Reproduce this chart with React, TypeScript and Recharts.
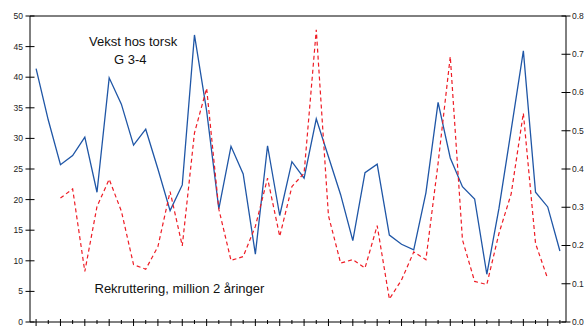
import { ComposedChart, Line, XAxis, YAxis, ReferenceLine } from "recharts";

// år (ingen etiketter vises på x-aksen)
const years = [
  "1961", "1962", "1963", "1964", "1965", "1966", "1967", "1968", "1969", "1970",
  "1971", "1972", "1973", "1974", "1975", "1976", "1977", "1978", "1979", "1980",
  "1981", "1982", "1983", "1984", "1985", "1986", "1987", "1988", "1989", "1990",
  "1991", "1992", "1993", "1994", "1995", "1996", "1997", "1998", "1999", "2000",
  "2001", "2002", "2003", "2004",
];

// Vekst hos torsk G 3-4 (venstre akse)
const vekst = [
  41.4, 33.0, 25.7, 27.2, 30.2, 21.2, 39.9, 35.6, 28.9, 31.5,
  25.0, 18.2, 22.4, 46.9, 34.5, 18.5, 28.7, 24.2, 11.1, 28.8,
  17.4, 26.2, 23.5, 33.2, 27.0, 20.8, 13.3, 24.4, 25.8, 14.2,
  12.7, 11.8, 21.1, 35.9, 26.8, 22.1, 20.1, 7.8, 18.6, 31.4,
  44.3, 21.2, 18.8, 11.6,
];

// Rekruttering, million 2 åringer (høyre akse)
const rekruttering = [
  null, null, 0.324, 0.348, 0.132, 0.302, 0.373, 0.29, 0.15, 0.138,
  0.197, 0.341, 0.199, 0.494, 0.611, 0.295, 0.161, 0.171, 0.25, 0.376,
  0.224, 0.354, 0.389, 0.764, 0.278, 0.154, 0.163, 0.141, 0.252, 0.06,
  0.11, 0.183, 0.163, 0.415, 0.694, 0.215, 0.106, 0.098, 0.232, 0.335,
  0.546, 0.205, 0.113, null,
];

const leftTicks = [0, 5, 10, 15, 20, 25, 30, 35, 40, 45, 50];
const rightTicks = [0, 0.1, 0.2, 0.3, 0.4, 0.5, 0.6, 0.7, 0.8];

const data = years.map((year, i) => ({
  year,
  vekst: vekst[i],
  rekruttering: rekruttering[i],
}));

const font = "'Liberation Sans', Arial, sans-serif";

const XTick = (props: any) => {
  const { x, y } = props;
  const idx = props.index ?? props.payload?.index ?? 0;
  const major = idx % 2 === 0;
  return (
    <line
      x1={x}
      x2={x}
      y1={y - (major ? 3 : 2)}
      y2={y + (major ? 4 : 2)}
      stroke="#000"
      strokeWidth={1}
    />
  );
};

const LeftTick = (props: any) => {
  const { x, y, payload } = props;
  return (
    <g>
      <line x1={x - 4.5} x2={x + 4.5} y1={y} y2={y} stroke="#000" />
      <text
        x={x - 7}
        y={y}
        dy="0.35em"
        textAnchor="end"
        fontSize={8.5}
        fontFamily={font}
        fill="#222"
      >
        {payload.value}
      </text>
    </g>
  );
};

const RightTick = (props: any) => {
  const { x, y, payload } = props;
  return (
    <g>
      <line x1={x - 4.5} x2={x + 4.5} y1={y} y2={y} stroke="#000" />
      <text
        x={x + 6}
        y={y}
        dy="0.35em"
        textAnchor="start"
        fontSize={8.5}
        fontFamily={font}
        fill="#222"
      >
        {Number(payload.value).toFixed(1)}
      </text>
    </g>
  );
};

export default function App() {
  return (
    <div style={{ position: "absolute", left: 0, top: 0, width: 586, height: 331 }}>
      <ComposedChart
        width={586}
        height={331}
        data={data}
        margin={{ top: 16, right: 0, bottom: 0, left: 0 }}
      >
        <XAxis
          dataKey="year"
          scale="band"
          interval={0}
          height={9}
          tickSize={0}
          tickMargin={0}
          tickLine={false}
          tick={<XTick />}
          axisLine={{ stroke: "#000" }}
        />
        <YAxis
          yAxisId="left"
          orientation="left"
          width={30}
          domain={[0, 50]}
          ticks={leftTicks}
          interval={0}
          tickSize={0}
          tickMargin={0}
          tickLine={false}
          tick={<LeftTick />}
          axisLine={{ stroke: "#000" }}
        />
        <YAxis
          yAxisId="right"
          orientation="right"
          width={20}
          domain={[0, 0.8]}
          ticks={rightTicks}
          interval={0}
          tickSize={0}
          tickMargin={0}
          tickLine={false}
          tick={<RightTick />}
          axisLine={{ stroke: "#000" }}
        />
        <ReferenceLine yAxisId="left" y={50} stroke="#000" />
        <Line
          yAxisId="left"
          type="linear"
          dataKey="vekst"
          stroke="#1f56a6"
          strokeWidth={1.3}
          dot={false}
          isAnimationActive={false}
        />
        <Line
          yAxisId="right"
          type="linear"
          dataKey="rekruttering"
          stroke="#ee1c25"
          strokeWidth={1.2}
          strokeDasharray="4 3"
          dot={false}
          isAnimationActive={false}
        />
      </ComposedChart>
      <svg
        width={586}
        height={331}
        style={{ position: "absolute", left: 0, top: 0, pointerEvents: "none" }}
      >
        <g fontFamily={font} fontSize={13} fill="#111">
          <text x={89} y={46}>Vekst hos torsk</text>
          <text x={114} y={64}>G 3-4</text>
          <text x={94.5} y={293}>Rekruttering, million 2 åringer</text>
        </g>
      </svg>
    </div>
  );
}
